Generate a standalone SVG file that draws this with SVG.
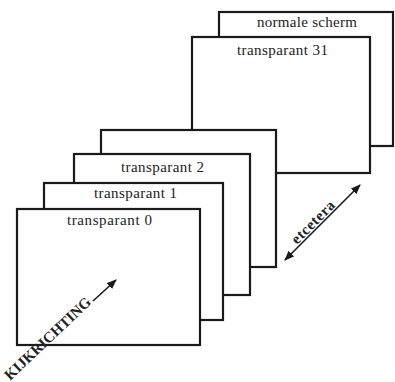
<svg xmlns="http://www.w3.org/2000/svg" width="395" height="382" viewBox="0 0 395 382">
<style>
.frame{fill:#fff;stroke:#1a1a1a;stroke-width:2.2}
.lbl{font-family:"Liberation Serif",serif;font-size:15px;fill:#222}
.conn{stroke:#1a1a1a;stroke-width:1.6;fill:none}
</style>
<defs>
<marker id="ah" viewBox="0 0 10 8" refX="9" refY="4" markerWidth="10" markerHeight="8" markerUnits="userSpaceOnUse" orient="auto-start-reverse">
<path d="M0,0 L10,4 L0,8 Z" fill="#1a1a1a"/>
</marker>
</defs>
<rect width="395" height="382" fill="#fff"/>
<g id="normale-scherm">
<rect class="frame" x="219" y="12" width="174" height="134"/>
<text class="lbl" x="257" y="27" textLength="100" font-size="14">normale scherm</text>
</g>
<g id="transparant-31">
<rect class="frame" x="192" y="37" width="178" height="136"/>
<text class="lbl" x="237" y="55" textLength="91">transparant 31</text>
</g>
<g id="transparant-3">
<rect class="frame" x="101" y="130" width="175" height="137"/>
</g>
<g id="transparant-2">
<rect class="frame" x="74" y="154" width="176" height="141"/>
<text class="lbl" x="121" y="172" textLength="83">transparant 2</text>
</g>
<g id="transparant-1">
<rect class="frame" x="44" y="183" width="179" height="137"/>
<text class="lbl" x="94" y="198" textLength="83">transparant 1</text>
</g>
<g id="transparant-0">
<rect class="frame" x="17" y="209" width="183" height="136"/>
<text class="lbl" x="67" y="225" textLength="85">transparant 0</text>
</g>
<g id="connectors">
<line class="conn" x1="93" y1="301" x2="116" y2="280" marker-end="url(#ah)"/>
<text class="lbl" x="10" y="381" font-size="13.5" font-weight="bold" textLength="113" transform="rotate(-43.5 10 381)">KIJKRICHTING</text>
<line class="conn" x1="285" y1="260" x2="360" y2="185" marker-start="url(#ah)" marker-end="url(#ah)"/>
<text class="lbl" x="297" y="245" font-size="11" font-weight="bold" textLength="55" transform="rotate(-45 297 245)">etcetera</text>
</g>
</svg>
